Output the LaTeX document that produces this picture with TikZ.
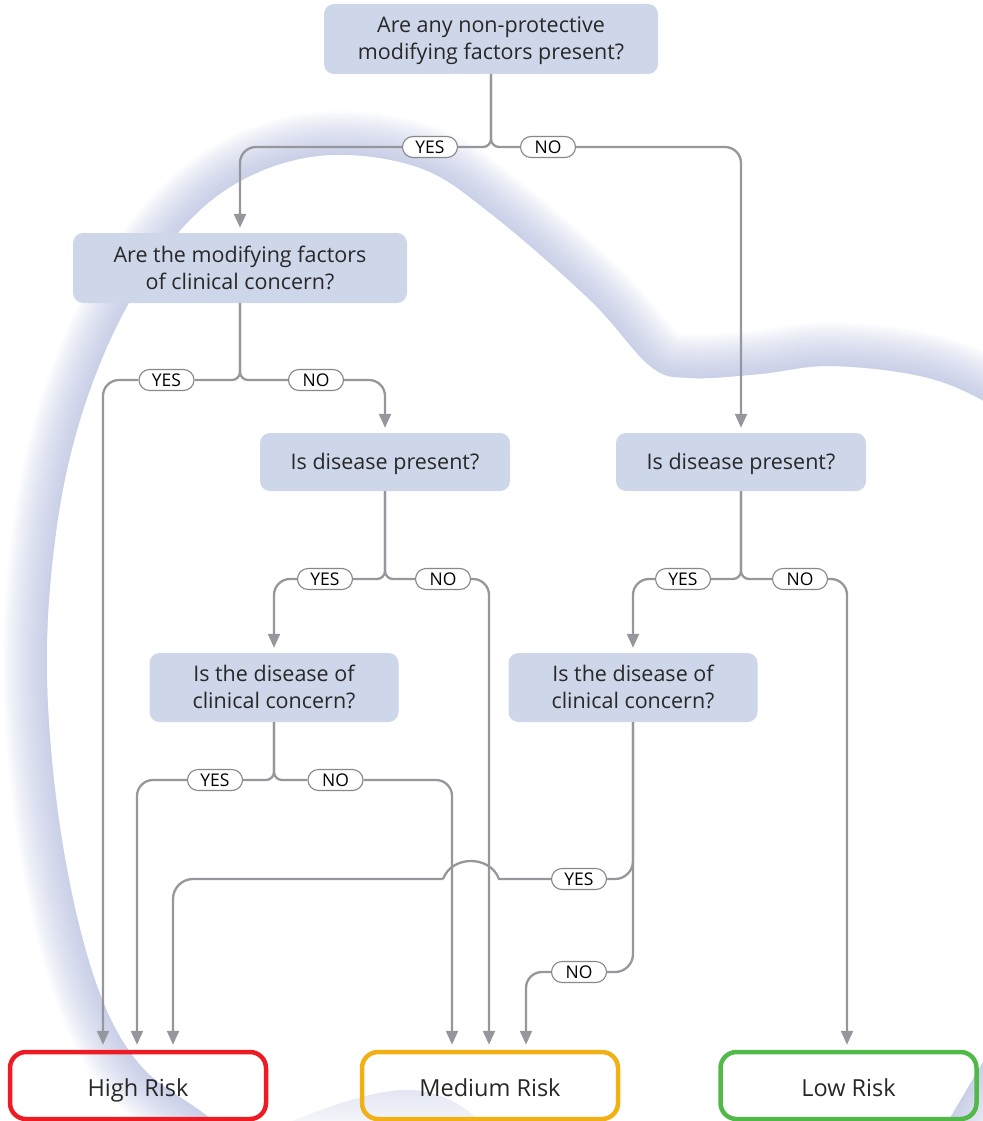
\documentclass[tikz,border=0pt]{standalone}
\usepackage{fontspec}
\setmainfont{Open Sans}
\usetikzlibrary{arrows.meta,calc}
\definecolor{qfill}{RGB}{206,214,233}
\definecolor{connc}{RGB}{150,151,156}
\definecolor{pillline}{RGB}{135,135,140}
\definecolor{txt}{RGB}{40,40,40}
\definecolor{lav}{RGB}{165,175,215}
\definecolor{riskred}{RGB}{237,28,36}
\definecolor{riskorange}{RGB}{241,176,20}
\definecolor{riskgreen}{RGB}{80,185,72}
\newcommand\tstrut{\rule{0pt}{21pt}}
\newcommand\bstrut{\rule[-6pt]{0pt}{6pt}}
\begin{document}
\begin{tikzpicture}[x=1pt,y=-1pt,
  question/.style={fill=qfill, rounded corners=10pt, text=txt, align=center, inner sep=0pt,
    font=\fontsize{21.5}{27}\selectfont},
  pill/.style={draw=pillline, line width=1.1pt, fill=white, rounded corners=10.5pt,
    minimum width=55pt, minimum height=21pt, inner sep=0pt, text=black,
    font=\fontsize{17.5}{17.5}\selectfont},
  risk/.style={draw=#1, line width=4.5pt, rounded corners=16pt, minimum width=256pt,
    minimum height=67pt, inner sep=0pt, text=txt, text height=21pt, text depth=0pt,
    font=\fontsize{23.5}{28}\selectfont},
  link/.style={draw=connc, line width=2.3pt},
  arr/.style={-{Triangle[length=14pt,width=12pt]}, shorten >=5pt},
  junc/.style={rounded corners=8pt},
  bigturn/.style={rounded corners=16pt},
  shadowstroke/.style={draw=lav, line width=#1},
]
\useasboundingbox (0,0) rectangle (982,1121);

% background swoosh: soft shadow only outside a large white shape
\begin{scope}
  \clip plot[smooth, tension=0.6] coordinates {(250,1170) (213,1121) (140,1065) (95,980) (62,840) (47,680) (55,540) (80,420) (125,310) (185,225) (250,176) (330,155) (420,168) (490,213) (590,300) (650,366) (690,378) (760,374) (830,366) (920,376) (982,400) (1040,440)} -- (1100,440) -- (1100,-100) -- (-100,-100) -- (-100,1200) -- (250,1200) -- cycle
    (1040,1000) -- (1000,1033) -- (930,1152) -- (900,1200) -- (1100,1200) -- (1100,1000) -- cycle;
  \foreach \w in {4,8,...,88} {
    \begin{scope}[opacity=0.04]
    \draw[shadowstroke=\w pt] plot[smooth, tension=0.6] coordinates {(250,1170) (213,1121) (140,1065) (95,980) (62,840) (47,680) (55,540) (80,420) (125,310) (185,225) (250,176) (330,155) (420,168) (490,213) (590,300) (650,366) (690,378) (760,374) (830,366) (920,376) (982,400) (1040,440)} -- (1040,1000) -- (1000,1033) -- (930,1152) -- (900,1200);
    \end{scope}
  }
\end{scope}
\shade[top color=lav!32, bottom color=lav!10]
  (283,1125) .. controls (330,1105) and (380,1088) .. (413,1090)
  .. controls (440,1092) and (465,1105) .. (484,1125) -- cycle;

% questions
\node[question, minimum width=334pt, minimum height=70pt] (q1) at (491,39) {\tstrut Are any non-protective\\modifying factors present?\bstrut};
\node[question, minimum width=334pt, minimum height=70pt] (q2) at (240,268) {\tstrut Are the modifying factors\\of clinical concern?\bstrut};
\node[question, minimum width=250pt, minimum height=58pt] (d1) at (385,462) {\tstrut Is disease present?\bstrut};
\node[question, minimum width=250pt, minimum height=58pt] (d2) at (741,462) {\tstrut Is disease present?\bstrut};
\node[question, minimum width=249pt, minimum height=69pt] (c1) at (274,687.5) {\tstrut Is the disease of\\clinical concern?\bstrut};
\node[question, minimum width=249pt, minimum height=69pt] (c2) at (633,687.5) {\tstrut Is the disease of\\clinical concern?\bstrut};

% outcomes
\node[risk=riskred] (high) at (138,1085.5) {High Risk};
\node[risk=riskorange] (med) at (490,1085.5) {Medium Risk};
\node[risk=riskgreen] (low) at (848.5,1085.5) {Low Risk};

% labels
\node[pill] (y1) at (430,147) {YES};
\node[pill] (n1) at (548,147) {NO};
\node[pill] (y2) at (166.5,380) {YES};
\node[pill] (n2) at (316,380) {NO};
\node[pill] (y3) at (325,579) {YES};
\node[pill] (n3) at (443,579) {NO};
\node[pill] (y4) at (683,579) {YES};
\node[pill] (n4) at (800,579) {NO};
\node[pill] (y5) at (215,780) {YES};
\node[pill] (n5) at (335.5,780) {NO};
\node[pill] (y6) at (579,879) {YES};
\node[pill] (n6) at (579,972) {NO};

\coordinate (hopR) at (499,879);
\coordinate (hopL) at (443,879);

% connectors: level 1
\draw[link, junc] (q1.south) |- (y1.east);
\draw[link, junc] (q1.south) |- (n1.west);
\draw[link, bigturn, arr] (y1.west) -| (q2.north);
\draw[link, bigturn, arr] (n1.east) -| (d2.north);

% level 2
\draw[link, junc] (q2.south) |- (y2.east);
\draw[link, junc] (q2.south) |- (n2.west);
\draw[link, bigturn, arr] (y2.west) -| ([xshift=-35pt]high.north);
\draw[link, bigturn, arr] (n2.east) -| (d1.north);

% level 3
\draw[link, junc] (d1.south) |- (y3.east);
\draw[link, junc] (d1.south) |- (n3.west);
\draw[link, bigturn, arr] (y3.west) -| (c1.north);
\draw[link, bigturn, arr] (n3.east) -| ([xshift=-1pt]med.north);
\draw[link, junc] (d2.south) |- (y4.east);
\draw[link, junc] (d2.south) |- (n4.west);
\draw[link, bigturn, arr] (y4.west) -| (c2.north);
\draw[link, bigturn, arr] (n4.east) -| ([xshift=-1.5pt]low.north);

% level 4
\draw[link, junc] (c1.south) |- (y5.east);
\draw[link, junc] (c1.south) |- (n5.west);
\draw[link, bigturn, arr] (y5.west) -| ([xshift=-1pt]high.north);
\draw[link, bigturn, arr] (n5.east) -| ([xshift=-38pt]med.north);
\draw[link, rounded corners=18pt] (c2.south) |- (y6.east);
\draw[link, rounded corners=18pt] (c2.south) |- (n6.east);
\draw[link] (y6.west) -- (hopR) .. controls (490,855) and (452,855) .. (hopL);
\draw[link, rounded corners=20pt, arr] (hopL) -| ([xshift=35pt]high.north);
\draw[link, bigturn, arr] (n6.west) -| ([xshift=36pt]med.north);
\end{tikzpicture}
\end{document}
